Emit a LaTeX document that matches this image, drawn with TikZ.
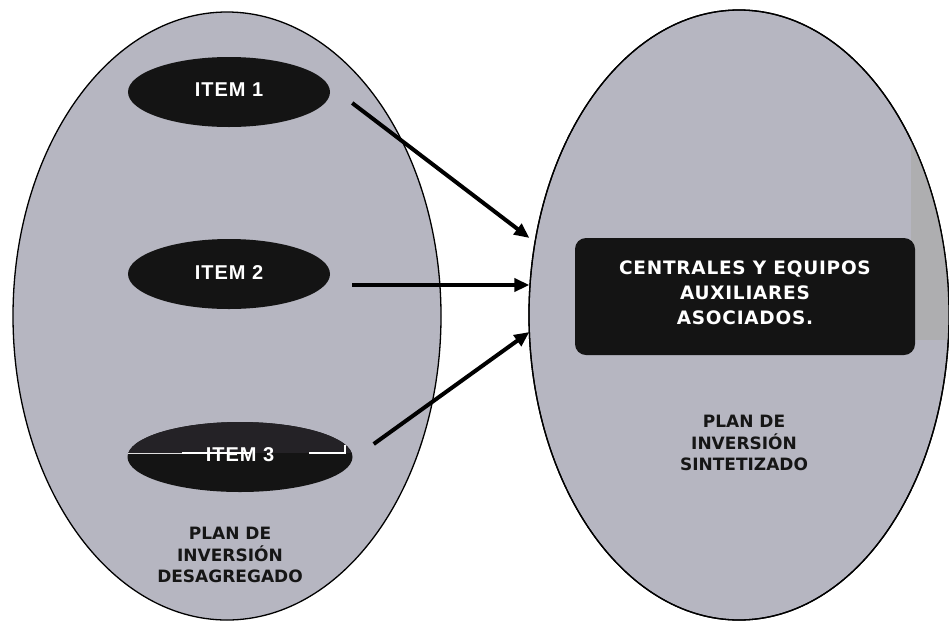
\documentclass[tikz,border=0pt]{standalone}
\usepackage{fontspec}
\usetikzlibrary{shapes.geometric,arrows.meta}
\newfontfamily\verd{DejaVu Sans}
\newfontfamily\verdsp[LetterSpace=4]{DejaVu Sans}
\newfontfamily\arl[LetterSpace=5]{Liberation Sans}
\definecolor{bigfill}{RGB}{182,182,193}
\definecolor{patch}{RGB}{174,174,176}
\definecolor{dark}{RGB}{20,20,20}
\definecolor{darktex}{RGB}{36,34,38}
\definecolor{txt}{RGB}{22,22,22}
\begin{document}
\begin{tikzpicture}[x=1pt,y=-1pt,
  big/.style={ellipse,draw=black,line width=1.3pt,fill=bigfill,inner sep=0pt},
  item/.style={ellipse,fill=dark,inner sep=0pt,minimum width=202pt,minimum height=70pt},
  itemtext/.style={text=white,inner sep=0pt,font=\arl\bfseries\fontsize{20}{20}\selectfont},
  plan/.style={align=center,text=txt,inner sep=0pt,font=\verd\bfseries\fontsize{17}{21.5}\selectfont},
  conn/.style={line width=4pt,-{Triangle[length=15pt,width=13pt]}}
]
\useasboundingbox (0,0) rectangle (949,622);
\fill[white] (0,0) rectangle (949,622);

% big ellipses
\node[big,minimum width=428pt,minimum height=608pt] (L) at (227,316) {};
\node[big,minimum width=420pt,minimum height=610pt] (R) at (739,315) {};
\begin{scope}
  \clip (739,315) ellipse [x radius=210, y radius=305];
  \fill[patch] (911,140) rectangle (960,340);
\end{scope}
\draw[line width=1.3pt] (739,315) ellipse [x radius=210, y radius=305];

% item ellipses
\node[item] (i1) at (229,92) {};
\node[itemtext] at ([yshift=2pt]i1.center) {ITEM 1};
\node[item] (i2) at (229,274) {};
\node[itemtext] at ([yshift=1pt]i2.center) {ITEM 2};
\node[item,minimum width=225pt] (i3) at (240,457) {};
\begin{scope}
  \clip (240,457) ellipse [x radius=112.5, y radius=35];
  \fill[darktex] (120,415) rectangle (360,453);
\end{scope}
\draw[white!75!gray,line width=0.8pt] (128,453) -- (182,453);
\draw[white,line width=1.2pt] (182,453) -- (250,453);
\draw[white,line width=1.2pt] (309,453) -- (345,453) -- (345,445);
\node[itemtext] at ([yshift=2pt]i3.center) {ITEM 3};

% box
\node[fill=dark,rounded corners=11pt,minimum width=340pt,minimum height=117pt,inner sep=0pt] (C) at (745,296.5) {};
\node[align=center,text=white,inner sep=0pt,font=\verdsp\bfseries\fontsize{18.5}{25}\selectfont] (Ct) at ([yshift=4pt]C.center)
      {CENTRALES Y EQUIPOS\\AUXILIARES\\ASOCIADOS.};

% labels
\node[plan] (pl) at (230,555) {PLAN DE\\INVERSIÓN\\DESAGREGADO};
\node[plan] (pr) at (744,443) {PLAN DE\\INVERSIÓN\\SINTETIZADO};

% connectors
\coordinate (s1) at ([shift={(22,11)}]i1.east);
\coordinate (s2) at ([shift={(22,11)}]i2.east);
\coordinate (s3) at ([shift={(21,-13)}]i3.east);
\coordinate (t1) at ([shift={(1,-77)}]R.west);
\coordinate (t2) at ([shift={(1,-30)}]R.west);
\coordinate (t3) at ([shift={(1,17)}]R.west);
\draw[conn] (s1) -- (t1);
\draw[conn] (s2) -- (t2);
\draw[conn] (s3) -- (t3);
\end{tikzpicture}
\end{document}
